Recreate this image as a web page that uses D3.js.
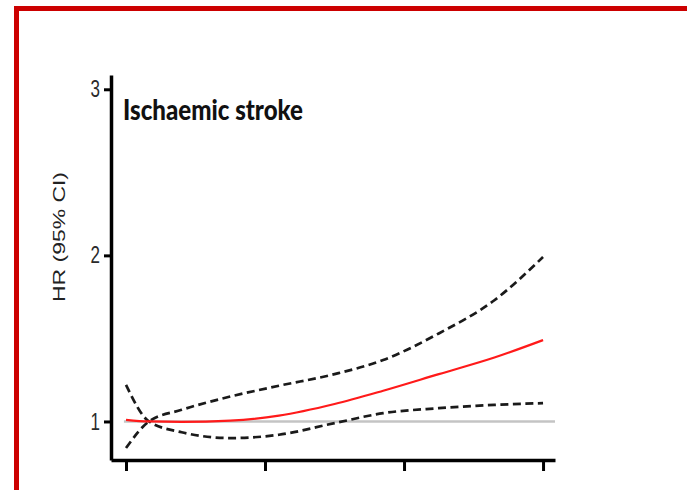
<!DOCTYPE html>
<html>
<head>
<meta charset="utf-8">
<script src="https://cdn.jsdelivr.net/npm/d3@7"></script>
<style>
  html, body { margin: 0; padding: 0; background: #fff; }
  svg { display: block; }
</style>
</head>
<body>
<svg id="chart" width="687" height="490"></svg>
<script>
// Exposure grid (x-axis units) at which the spline was evaluated
const xPoints = [0, 0.165, 0.4, 0.75, 1.1, 1.5, 1.85, 2.25, 2.65, 3.0];
// Hazard ratio estimate and 95% confidence limits
const hrEstimate = [1.01, 1.0, 0.997, 1.005, 1.035, 1.105, 1.185, 1.285, 1.385, 1.49];
const ciUpper    = [0.84, 1.0, 1.07, 1.15, 1.215, 1.285, 1.37, 1.53, 1.73, 1.99];
const ciLower    = [1.22, 1.0, 0.935, 0.90, 0.92, 0.99, 1.05, 1.08, 1.10, 1.11];
const yTicks = [1, 2, 3];
const xTicks = [0, 1, 2, 3];
const title = "Ischaemic stroke";
const yLabel = "HR (95% CI)";

const svg = d3.select("#chart");
const W = 687, H = 490;
const stretch = 1.4; // vertical text stretch used throughout the figure

// Frame around the panel
svg.append("path")
  .attr("d", `M16.5,${H + 10} L16.5,8.5 L${W + 10},8.5`)
  .attr("fill", "none")
  .attr("stroke", "#cc0000")
  .attr("stroke-width", 5);

const x = d3.scaleLinear().domain([-0.108, 3.086]).range([111, 555]);
const y = d3.scaleLinear().domain([0.768, 3.086]).range([460, 75]);

// Reference line at HR = 1
svg.append("line")
  .attr("x1", x(-0.015)).attr("x2", x(3.086))
  .attr("y1", y(1)).attr("y2", y(1))
  .attr("stroke", "#c4c4c4")
  .attr("stroke-width", 2.5);

const line = d3.line()
  .x((d, i) => x(xPoints[i]))
  .y(d => y(d))
  .curve(d3.curveMonotoneX);

svg.append("path")
  .datum(ciUpper)
  .attr("d", line)
  .attr("fill", "none")
  .attr("stroke", "#1a1a1a")
  .attr("stroke-width", 2.7)
  .attr("stroke-dasharray", "8,4.5");

svg.append("path")
  .datum(ciLower)
  .attr("d", line)
  .attr("fill", "none")
  .attr("stroke", "#1a1a1a")
  .attr("stroke-width", 2.7)
  .attr("stroke-dasharray", "8,4.5");

svg.append("path")
  .datum(hrEstimate)
  .attr("d", line)
  .attr("fill", "none")
  .attr("stroke", "#ff1a1a")
  .attr("stroke-width", 2.2);

// Axes
const yAxis = svg.append("g")
  .attr("transform", "translate(111,0)")
  .call(d3.axisLeft(y).tickValues(yTicks).tickFormat(d3.format("d"))
    .tickSize(7).tickSizeOuter(0).tickPadding(4));

const xAxis = svg.append("g")
  .attr("transform", "translate(0,460)")
  .call(d3.axisBottom(x).tickValues(xTicks).tickFormat("")
    .tickSize(11).tickSizeOuter(0));

[yAxis, xAxis].forEach(g => {
  g.select(".domain").attr("stroke", "#000").attr("stroke-width", 3.5);
  g.selectAll(".tick line").attr("stroke", "#000").attr("stroke-width", 3);
});

yAxis.selectAll(".tick text")
  .attr("font-family", "'Liberation Sans', Arial, sans-serif")
  .attr("font-size", 17)
  .attr("fill", "#2a2a2a")
  .attr("transform", `scale(1,${stretch})`);

// Y-axis title
svg.append("text")
  .attr("transform", "translate(65,237) rotate(-90)")
  .attr("text-anchor", "middle")
  .attr("font-family", "'Liberation Sans', Arial, sans-serif")
  .attr("font-size", 16.5)
  .attr("fill", "#222")
  .attr("textLength", 130)
  .attr("lengthAdjust", "spacingAndGlyphs")
  .text(yLabel);

// Panel title
svg.append("text")
  .attr("x", 123)
  .attr("y", 120)
  .attr("font-family", "Lato, 'Open Sans', sans-serif")
  .attr("font-weight", 900)
  .attr("font-size", 28)
  .attr("fill", "#111")
  .attr("textLength", 180)
  .attr("lengthAdjust", "spacingAndGlyphs")
  .text(title);
</script>
</body>
</html>
